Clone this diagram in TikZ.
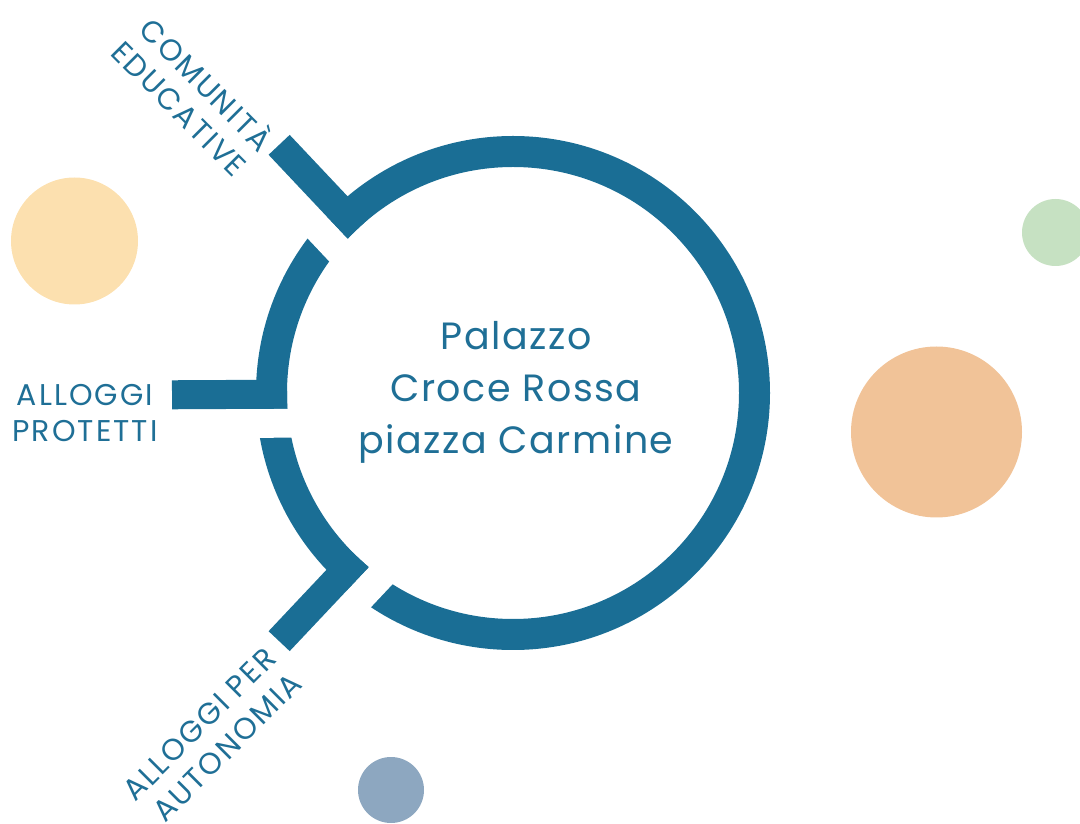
\documentclass[tikz,border=0pt]{standalone}
\usepackage{fontspec}
\setmainfont{Poppins}
\usetikzlibrary{positioning}
\definecolor{ringblue}{HTML}{1A6E95}
\definecolor{textblue}{HTML}{1F6F96}
\definecolor{sunyellow}{HTML}{FCE0AF}
\definecolor{sagegreen}{HTML}{C6E1C2}
\definecolor{peach}{HTML}{F1C398}
\definecolor{slateblue}{HTML}{8DA7C0}

\begin{document}
\begin{tikzpicture}[
    x=1pt, y=1pt,
    font=\fontsize{30}{36}\selectfont\addfontfeature{LetterSpace=7},
    ring/.style={draw=ringblue, line width=31pt},
    arm/.style={draw=ringblue, line width=29pt},
    gapcut/.style={draw=white, line width=29pt},
    tag/.style={text=textblue, align=center, inner sep=0pt}
  ]
  \useasboundingbox (0,0) rectangle (1080,823);
  \clip (0,0) rectangle (1080,823);

  % dots
  \fill[sunyellow] (74.5,582) circle (63.5);
  \fill[sagegreen] (1055.5,590.5) circle (33.5);
  \fill[peach] (936.5,391) circle (85.5);
  \fill[slateblue] (391,33) circle (33);

  % ring and arms
  \coordinate (c) at (513,430);
  \draw[ring] (c) circle (241.5);
  \foreach \a in {133.3,180.3,226.7}{
    \begin{scope}[shift={(c)}, rotate=\a]
      \draw[gapcut] (212,29) -- (268,29);
      \draw[arm] (226,0) -- (341,0);
    \end{scope}
  }

  % texts
  \node[tag, font=\fontsize{38}{52}\selectfont\addfontfeature{LetterSpace=4}] (hub) at (516,431)
    {Palazzo\\Croce Rossa\\piazza Carmine};
  \node[tag, rotate=-45, align=right] (comunita) at (194,729) {COMUNITÀ\\EDUCATIVE};
  \node[tag] (protetti) at (85,409.5) {ALLOGGI\\PROTETTI};
  \node[tag, rotate=45, align=right] (autonomia) at (212,86) {ALLOGGI PER\\AUTONOMIA};

\end{tikzpicture}
\end{document}
